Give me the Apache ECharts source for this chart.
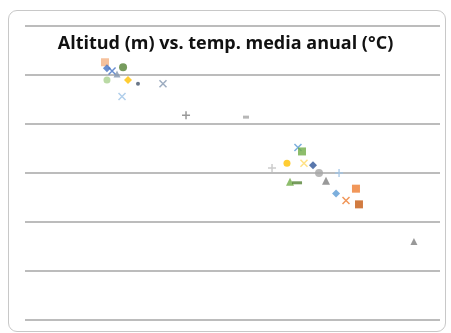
<!DOCTYPE html>
<html>
<head>
<meta charset="utf-8">
<script src="https://cdn.jsdelivr.net/npm/echarts@6/dist/echarts.min.js"></script>
<style>
  html, body { margin: 0; padding: 0; background: #fff; }
  #frame { position: absolute; left: 8px; top: 10px; width: 436px; height: 320px;
    border: 1.5px solid #c8c8c8; border-radius: 9px; }
  #chart { position: absolute; left: 0; top: 0; width: 451px; height: 333px; }
</style>
</head>
<body>
<div id="frame"></div>
<div id="chart"></div>
<script>
  // altitud (m) y temperatura media anual (°C) por localidad
  const altitud = [771, 790, 945, 839, 887, 790, 993, 1089, 1330, 935, 1552, 2130,
    2381, 2525, 2631, 2670, 2689, 2776, 2834, 3027, 2554, 2622, 2901, 2998, 3094, 3190, 3219, 3749]
  const temp = [26.3, 25.7, 25.8, 25.4, 25.1, 24.5, 24.5, 24.1, 24.1, 22.8, 20.9, 20.7,
    15.5, 16.0, 17.6, 17.2, 16.0, 15.8, 15.0, 15.0, 14.1, 14.0, 14.2, 12.9, 12.2, 13.4, 11.8, 8.0]
  const yTicks = [0, 5, 10, 15, 20, 25, 30]

  const X = 'path://M0,0L2,2M2,0L0,2'
  const PLUS = 'path://M1,0L1,2M0,1L2,1'
  const DASH = 'path://M0,0L10,0L10,3L0,3Z'
  const marcas = [
    ['rect', '#F4B183', 8], ['diamond', '#4472C4', 8], ['circle', '#548235', 8], [X, '#4472C4', 7],
    ['triangle', '#8497B0', 7], ['circle', '#A9D18E', 7], ['diamond', '#FFC000', 8], ['circle', '#44546A', 4],
    [X, '#8497B0', 7], [X, '#9DC3E6', 7], [PLUS, '#7F7F7F', 8], [DASH, '#A5A5A5', 3],
    [PLUS, '#BFBFBF', 8], ['circle', '#FFC000', 7], [X, '#5B9BD5', 7], ['rect', '#70AD47', 8],
    [X, '#FFD966', 7], ['diamond', '#2F5597', 8], ['circle', '#A5A5A5', 8], [PLUS, '#9DC3E6', 8],
    ['triangle', '#70AD47', 8], [DASH, '#548235', 5], ['triangle', '#7F7F7F', 8], ['diamond', '#5B9BD5', 8],
    [X, '#ED7D31', 7], ['rect', '#ED7D31', 8], ['rect', '#C55A11', 8], ['triangle', '#7F7F7F', 7]
  ]

  const series = altitud.map(function (a, i) {
    const m = marcas[i]
    const linea = m[0] === X || m[0] === PLUS
    return {
      type: 'scatter',
      data: [[a, temp[i]]],
      symbol: m[0],
      symbolSize: m[0] === DASH ? [m[2] * 2, 3] : m[2],
      itemStyle: linea
        ? { color: 'none', borderColor: m[1], borderWidth: 1.5 }
        : { color: m[1] },
    }
  })

  const chart = echarts.init(document.getElementById('chart'))
  chart.setOption({
    animation: false,
    title: {
      text: 'Altitud (m) vs. temp. media anual (°C)',
      left: 'center',
      top: 30,
      textStyle: { fontFamily: 'Open Sans', fontWeight: 'bold', fontSize: 18, color: '#111' },
    },
    grid: { left: 25, right: 11, top: 26, bottom: 13 },
    xAxis: {
      type: 'value', min: 0, max: 4000,
      axisLine: { show: false }, axisTick: { show: false }, axisLabel: { show: false },
      splitLine: { show: false },
    },
    yAxis: {
      type: 'value', min: yTicks[0], max: yTicks[yTicks.length - 1], interval: yTicks[1] - yTicks[0],
      axisLine: { show: false }, axisTick: { show: false }, axisLabel: { show: false },
      splitLine: { lineStyle: { color: '#a6a6a6', width: 1.5 } },
    },
    series: series,
  })
</script>
</body>
</html>
